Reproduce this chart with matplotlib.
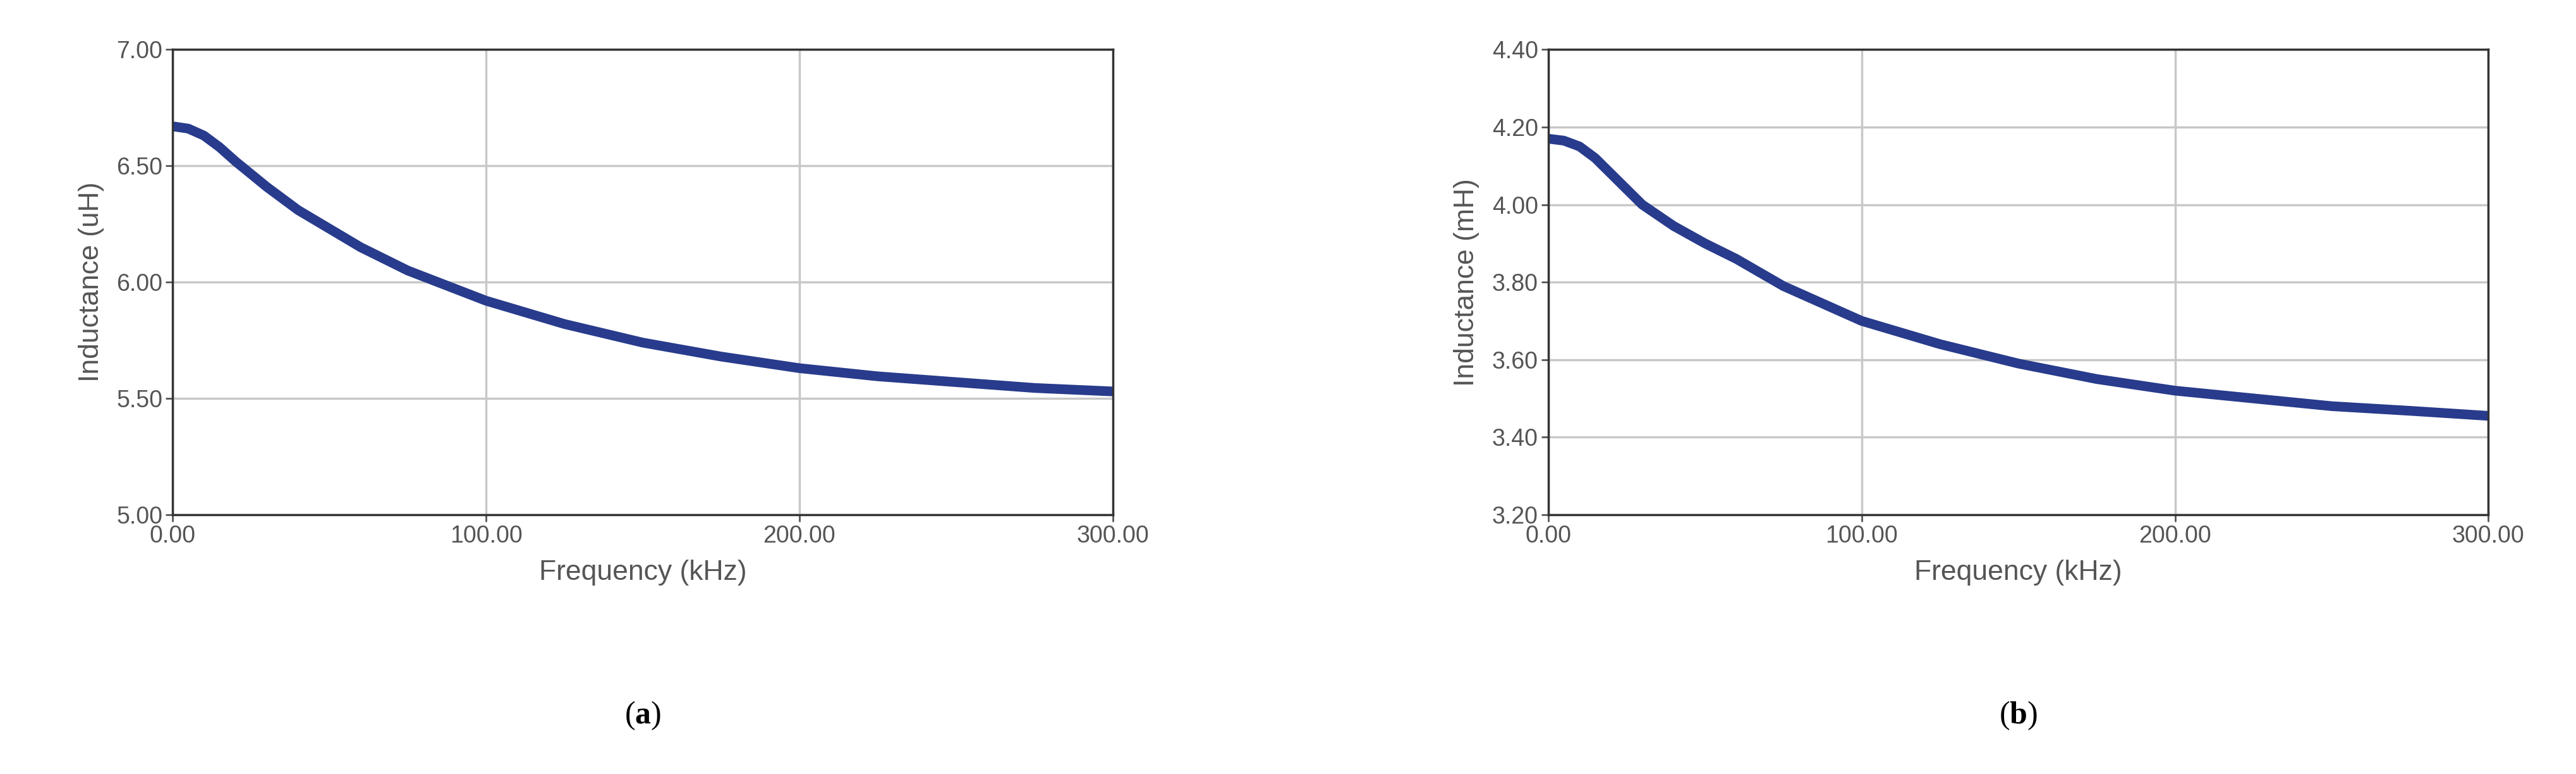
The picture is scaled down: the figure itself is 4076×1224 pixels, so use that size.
import matplotlib
matplotlib.use("Agg")
import matplotlib.pyplot as plt

plt.rcParams['font.family'] = ['Liberation Sans', 'DejaVu Sans']
plt.rcParams['mathtext.fontset'] = 'custom'
plt.rcParams['mathtext.bf'] = 'Liberation Serif:bold'
plt.rcParams['mathtext.rm'] = 'Liberation Serif'

freq = [0, 5, 10, 15, 20, 30, 40, 50, 60, 75, 100, 125, 150, 175, 200, 225, 250, 275, 300]
ind_a = [6.67, 6.66, 6.63, 6.58, 6.52, 6.41, 6.31, 6.23, 6.15, 6.05, 5.92, 5.82, 5.74, 5.68, 5.63, 5.595, 5.57, 5.545, 5.53]
ind_b = [4.17, 4.165, 4.15, 4.12, 4.08, 4.00, 3.945, 3.90, 3.86, 3.79, 3.70, 3.64, 3.59, 3.55, 3.52, 3.50, 3.48, 3.468, 3.455]

panels = [
    (ind_a, "Inductance (uH)", (5.0, 7.0), [5.0, 5.5, 6.0, 6.5, 7.0], "a", 0.067),
    (ind_b, "Inductance (mH)", (3.2, 4.4), [3.2, 3.4, 3.6, 3.8, 4.0, 4.2, 4.4], "b", 0.601),
]

fig = plt.figure(figsize=(40.76, 12.24), dpi=100)
grey = "#555555"
for vals, ylab, ylim, yticks, tag, left in panels:
    ax = fig.add_axes([left, 0.335, 0.365, 0.601])
    ax.plot(freq, vals, color="#283B8C", lw=11, solid_capstyle="round", solid_joinstyle="round")
    ax.set_xlim(0, 300)
    ax.set_ylim(*ylim)
    ax.set_xticks([0, 100, 200, 300])
    ax.set_xticklabels([f"{v:.2f}" for v in [0, 100, 200, 300]])
    ax.set_yticks(yticks)
    ax.set_yticklabels([f"{v:.2f}" for v in yticks])
    ax.grid(True, color="#c8c8c8", lw=2.5)
    ax.set_axisbelow(True)
    for s in ax.spines.values():
        s.set_color("#333333")
        s.set_linewidth(2.5)
    ax.tick_params(labelsize=27, colors=grey, length=8, width=2)
    ax.set_xlabel("Frequency (kHz)", fontsize=32, color=grey, labelpad=14)
    ax.set_ylabel(ylab, fontsize=32, color=grey, labelpad=14)
    fig.text(left + 0.1825, 0.065, r"$\mathrm{(}\mathbf{" + tag + r"}\mathrm{)}$",
             fontsize=36, ha="center")

fig.savefig("out.png", dpi=100)
